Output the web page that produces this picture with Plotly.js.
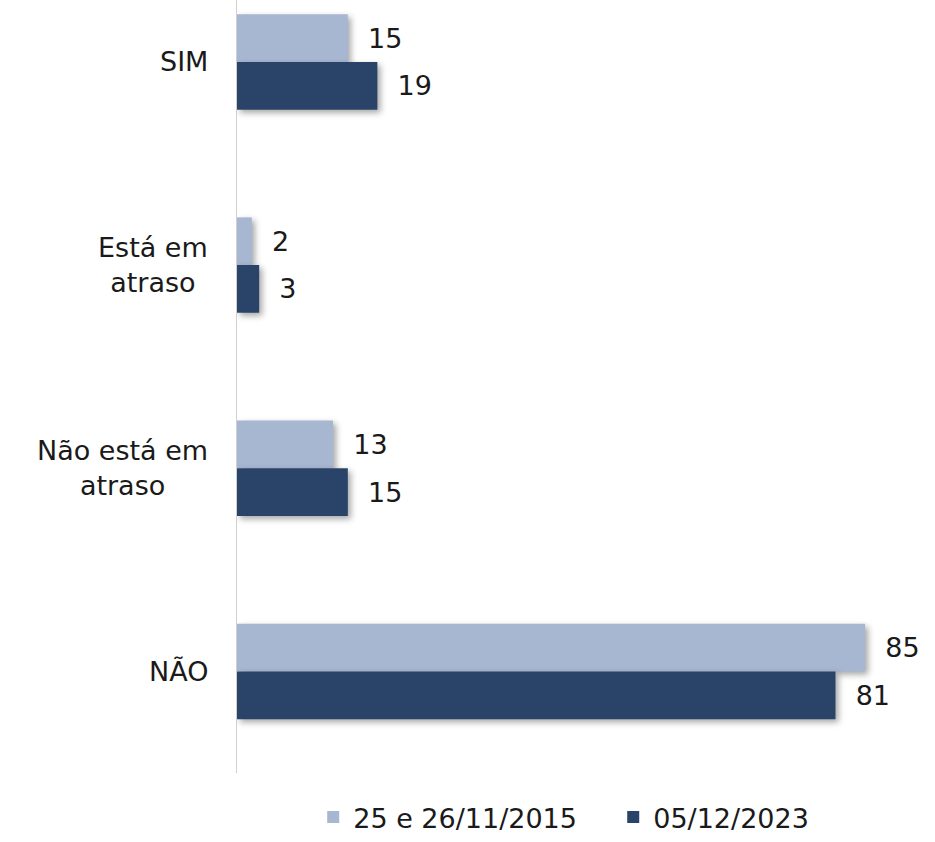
<!DOCTYPE html>
<html>
<head>
<meta charset="utf-8">
<script src="https://cdn.plot.ly/plotly-3.0.1.min.js"></script>
<style>
  body { margin: 0; background: #fff; }
  #chart { width: 935px; height: 842px; }
  .trace.bars path { filter: drop-shadow(3px 3px 3px rgba(0,0,0,0.35)); }
</style>
</head>
<body>
<div id="chart"></div>
<script>
// categories, top to bottom
let categories = ['SIM', 'Está em<br>atraso', 'Não está em<br>atraso', 'NÃO'];
let series2015 = [15, 2, 13, 85];
let series2023 = [19, 3, 15, 81];
let seriesNames = ['25 e 26/11/2015', '05/12/2023'];

let font = 'DejaVu Sans, sans-serif';
let fsize = 27;

let makeTrace = function(name, values, color){
  return {
    type: 'bar',
    orientation: 'h',
    name: name,
    y: categories,
    x: values,
    texttemplate: '  %{x}',
    textposition: 'outside',
    cliponaxis: false,
    textfont: { family: font, size: fsize, color: '#1a1a1a' },
    marker: { color: color }
  };
}

let trace1 = makeTrace(seriesNames[0], series2015, '#a7b6d1');
let trace2 = makeTrace(seriesNames[1], series2023, '#294468');

// category labels drawn as centered annotations
let annotations = categories.map(function(c){
  return {
    xref: 'paper', yref: 'y',
    x: -0.04, y: c,
    xanchor: 'right', yanchor: 'middle',
    align: 'center',
    text: c,
    showarrow: false,
    font: { family: font, size: fsize, color: '#1a1a1a' }
  };
});

let layout = {
  width: 935,
  height: 842,
  margin: { l: 237, r: 33, t: 0, b: 69 },
  paper_bgcolor: '#ffffff',
  plot_bgcolor: '#ffffff',
  font: { family: font, size: fsize, color: '#1a1a1a' },
  barmode: 'group',
  bargap: 0.53,
  bargroupgap: 0,
  showlegend: true,
  legend: {
    orientation: 'h',
    xref: 'container', yref: 'container',
    x: 0.335, xanchor: 'left',
    y: 0, yanchor: 'bottom',
    font: { family: font, size: 27, color: '#1a1a1a' },
    traceorder: 'normal',
    itemwidth: 30,
    entrywidth: 255
  },
  annotations: annotations,
  xaxis: {
    range: [0, 90],
    showgrid: false,
    zeroline: false,
    showticklabels: false,
    showline: false
  },
  yaxis: {
    type: 'category',
    autorange: false,
    range: [3.5, -0.305],
    showgrid: false,
    zeroline: false,
    showline: true,
    linecolor: '#d0d0d0',
    linewidth: 1,
    ticks: '',
    showticklabels: false
  }
};

Plotly.newPlot('chart', [trace1, trace2], layout, { displayModeBar: false });
</script>
</body>
</html>
